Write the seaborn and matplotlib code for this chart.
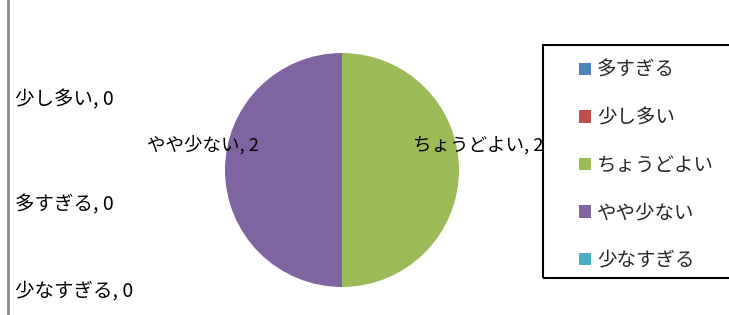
import matplotlib
matplotlib.use("Agg")
import matplotlib.pyplot as plt
from matplotlib.patches import Patch, Rectangle
from matplotlib.lines import Line2D
import seaborn as sns

# DATA
categories = ["多すぎる", "少し多い", "ちょうどよい", "やや少ない", "少なすぎる"]
counts = [0, 0, 2, 2, 0]
colors = ["#4F81BD", "#C0504D", "#9BBB59", "#8064A2", "#4BACC6"]

sns.set_theme(style="white")
plt.rcParams["font.family"] = ["Noto Sans CJK JP", "DejaVu Sans"]

W, H = 729, 315
fig = plt.figure(figsize=(W / 100, H / 100), dpi=100)

# pie axes: centre (342,170), radius 117 px
cx, cy, r = 342, 170, 117
ax = fig.add_axes([(cx - r) / W, (H - cy - r) / H, 2 * r / W, 2 * r / H])
ax.pie(counts, colors=colors, startangle=90, counterclock=False,
       wedgeprops=dict(linewidth=0))
ax.set_xlim(-1, 1)
ax.set_ylim(-1, 1)
ax.axis("off")

# DATA LABELS (positions in pixels, as in the reference)
label_pos = {
    "少し多い": (15, 100),
    "多すぎる": (15, 205),
    "少なすぎる": (15, 292),
    "やや少ない": (147, 145),
    "ちょうどよい": (413, 145),
}
for cat, val in zip(categories, counts):
    x, y = label_pos[cat]
    fs = 14 if x < 100 else 13.3
    fig.text(x / W, 1 - y / H, f"{cat}, {val}", fontsize=fs,
             ha="left", va="center", color="black")

# LEGEND
handles = [Patch(facecolor=c, edgecolor="none") for c in colors]
leg = fig.legend(handles, categories, loc="upper left",
                 bbox_to_anchor=(579 / W, 1 - 60 / H),
                 fontsize=14, frameon=False,
                 handlelength=0.62, handleheight=0.62, handletextpad=0.3,
                 labelspacing=1.36, borderpad=0, borderaxespad=0)
fig.add_artist(Rectangle((543 / W, 1 - 278 / H), 200 / W, 233 / H,
                         transform=fig.transFigure, fill=False,
                         edgecolor="black", linewidth=1.5))

# left border line of the chart area
fig.add_artist(Line2D([8 / W, 8 / W], [0, 1], color="#888888", linewidth=2))

fig.savefig("out.png", dpi=100)
